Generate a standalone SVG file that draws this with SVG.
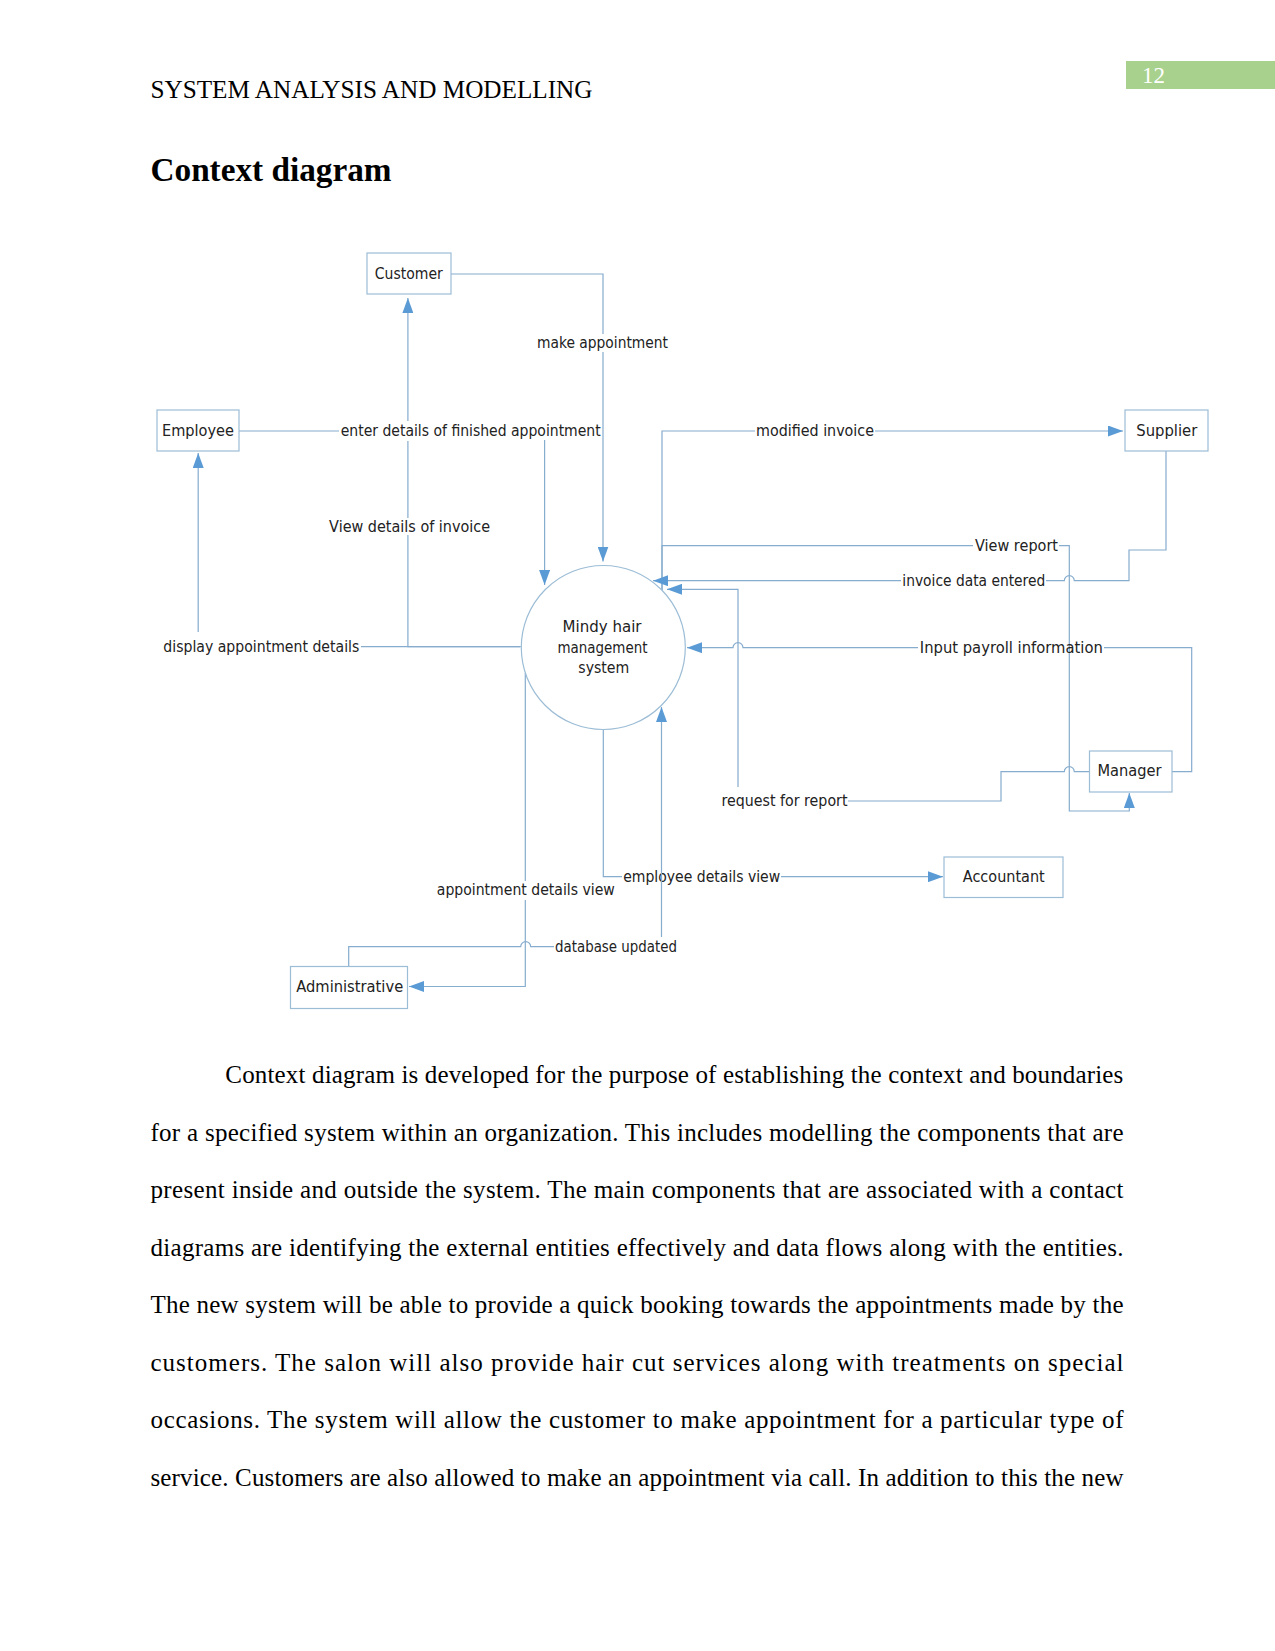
<svg xmlns="http://www.w3.org/2000/svg" width="1275" height="1651" viewBox="0 0 1275 1651">
<style>
.page{font-family:"Liberation Serif","Times New Roman",serif;fill:#000}
.box{fill:#fff;stroke:#9cbdd6;stroke-width:1.2}
.ntxt{font-family:"DejaVu Sans","Liberation Sans",sans-serif;font-size:15px;fill:#222;text-anchor:middle}
.ln{fill:none;stroke:#86acce;stroke-width:1.2}
.lbl{font-family:"DejaVu Sans","Liberation Sans",sans-serif;font-size:15px;fill:#222;text-anchor:middle}
</style>
<defs>
<marker id="ah" viewBox="0 0 15 11" refX="15" refY="5.5" markerWidth="15" markerHeight="11" markerUnits="userSpaceOnUse" orient="auto">
<path d="M0,0 L15,5.5 L0,11 z" fill="#5b9bd5"/>
</marker>
</defs>
<rect width="1275" height="1651" fill="#fff"/>

<g id="header">
<text class="page" x="150.5" y="98" font-size="25" textLength="442" lengthAdjust="spacingAndGlyphs">SYSTEM ANALYSIS AND MODELLING</text>
<rect x="1126" y="61" width="149" height="28" fill="#a9d18e"/>
<text x="1142" y="83" font-family="Liberation Serif, serif" font-size="23" fill="#ffffff">12</text>
<text class="page" x="150.5" y="181" font-size="33" font-weight="bold" textLength="241" lengthAdjust="spacingAndGlyphs">Context diagram</text>
</g>

<g id="connectors">
<g id="c-make-appointment">
<path class="ln" d="M451,274 H603 V334 M603,352 V561.5" marker-end="url(#ah)"/>
<text class="lbl" x="602.5" y="347.7" textLength="131" lengthAdjust="spacingAndGlyphs">make appointment</text>
</g>
<g id="c-enter-details">
<path class="ln" d="M239,431 H339 M544.6,440 V585" marker-end="url(#ah)"/>
<text class="lbl" x="470.7" y="436" textLength="260" lengthAdjust="spacingAndGlyphs">enter details of finished appointment</text>
</g>
<g id="c-view-details-invoice">
<path class="ln" d="M520.5,646.7 H407.9 V535 M407.9,518 V441 M407.9,421 V298" marker-end="url(#ah)"/>
<text class="lbl" x="409.6" y="531.7" textLength="161" lengthAdjust="spacingAndGlyphs">View details of invoice</text>
</g>
<g id="c-display-appointment">
<path class="ln" d="M520.5,646.7 H361 M198.2,632 V453" marker-end="url(#ah)"/>
<text class="lbl" x="261.3" y="651.7" textLength="196" lengthAdjust="spacingAndGlyphs">display appointment details</text>
</g>
<g id="c-modified-invoice">
<path class="ln" d="M662,590 V431 H755 M875,431 H1123" marker-end="url(#ah)"/>
<text class="lbl" x="815" y="436" textLength="118" lengthAdjust="spacingAndGlyphs">modified invoice</text>
</g>
<g id="c-view-report">
<path class="ln" d="M662,590 V545.7 H973 M1059,545.7 H1069.3 V811 H1129.3 V793" marker-end="url(#ah)"/>
<text class="lbl" x="1016.5" y="550.7" textLength="83" lengthAdjust="spacingAndGlyphs">View report</text>
</g>
<g id="c-invoice-data">
<path class="ln" d="M1166,451 V550 H1129 V580.7 H1074.3 A5,5 0 0 0 1064.3,580.7 H1046 M901,580.7 H653" marker-end="url(#ah)"/>
<text class="lbl" x="973.8" y="585.7" textLength="143" lengthAdjust="spacingAndGlyphs">invoice data entered</text>
</g>
<g id="c-request-report">
<path class="ln" d="M1089.5,771.7 H1074.3 A5,5 0 0 0 1064.3,771.7 H1001 V801 H848 M738,787 V589.3 H667" marker-end="url(#ah)"/>
<text class="lbl" x="784.5" y="806" textLength="126" lengthAdjust="spacingAndGlyphs">request for report</text>
</g>
<g id="c-input-payroll">
<path class="ln" d="M1172,771.7 H1191.7 V647.7 H1104 M918,647.7 H743 A5,5 0 0 0 733,647.7 H687" marker-end="url(#ah)"/>
<text class="lbl" x="1011.3" y="652.7" textLength="183" lengthAdjust="spacingAndGlyphs">Input payroll information</text>
</g>
<g id="c-employee-details">
<path class="ln" d="M603.3,729.5 V876.7 H622 M781,876.7 H943" marker-end="url(#ah)"/>
<text class="lbl" x="701.7" y="881.7" textLength="157" lengthAdjust="spacingAndGlyphs">employee details view</text>
</g>
<g id="c-database-updated">
<path class="ln" d="M348.7,966.5 V946.7 H520.7 A5,5 0 0 1 530.7,946.7 H554 M661.5,937 V707" marker-end="url(#ah)"/>
<text class="lbl" x="616" y="951.7" textLength="122" lengthAdjust="spacingAndGlyphs">database updated</text>
</g>
<g id="c-appointment-details">
<path class="ln" d="M525.3,673 V881 M525.3,900 V986.5 H409" marker-end="url(#ah)"/>
<text class="lbl" x="525.8" y="895" textLength="178" lengthAdjust="spacingAndGlyphs">appointment details view</text>
</g>
</g>

<g id="n-system">
<circle cx="603.3" cy="647.5" r="82" fill="#fff" stroke="#9cbdd6" stroke-width="1.2"/>
<text class="ntxt" x="602" y="631.7" textLength="79" lengthAdjust="spacingAndGlyphs">Mindy hair</text>
<text class="ntxt" x="602.5" y="652.7" textLength="90" lengthAdjust="spacingAndGlyphs">management</text>
<text class="ntxt" x="603.8" y="672.7" textLength="51" lengthAdjust="spacingAndGlyphs">system</text>
</g>
<g id="n-customer">
<rect class="box" x="367" y="253" width="84" height="41"/>
<text class="ntxt" x="408.8" y="278.5" textLength="68" lengthAdjust="spacingAndGlyphs">Customer</text>
</g>
<g id="n-employee">
<rect class="box" x="157" y="410" width="82" height="41"/>
<text class="ntxt" x="198" y="436" textLength="72" lengthAdjust="spacingAndGlyphs">Employee</text>
</g>
<g id="n-supplier">
<rect class="box" x="1125" y="410" width="83" height="41"/>
<text class="ntxt" x="1166.8" y="436" textLength="61" lengthAdjust="spacingAndGlyphs">Supplier</text>
</g>
<g id="n-manager">
<rect class="box" x="1089.5" y="751" width="82.5" height="41"/>
<text class="ntxt" x="1129.5" y="776" textLength="64" lengthAdjust="spacingAndGlyphs">Manager</text>
</g>
<g id="n-accountant">
<rect class="box" x="944" y="857" width="119" height="40.5"/>
<text class="ntxt" x="1003.8" y="881.5" textLength="82" lengthAdjust="spacingAndGlyphs">Accountant</text>
</g>
<g id="n-administrative">
<rect class="box" x="290.5" y="966.5" width="117" height="42"/>
<text class="ntxt" x="349.7" y="991.5" textLength="107" lengthAdjust="spacingAndGlyphs">Administrative</text>
</g>

<g id="body" class="page" font-size="25">
<text x="225.3" y="1083" textLength="898" lengthAdjust="spacing">Context diagram is developed for the purpose of establishing the context and boundaries</text>
<text x="150.5" y="1140.5" textLength="973" lengthAdjust="spacing">for a specified system within an organization. This includes modelling the components that are</text>
<text x="150.5" y="1198" textLength="973" lengthAdjust="spacing">present inside and outside the system. The main components that are associated with a contact</text>
<text x="150.5" y="1255.5" textLength="973" lengthAdjust="spacing">diagrams are identifying the external entities effectively and data flows along with the entities.</text>
<text x="150.5" y="1313" textLength="973" lengthAdjust="spacing">The new system will be able to provide a quick booking towards the appointments made by the</text>
<text x="150.5" y="1370.5" textLength="973" lengthAdjust="spacing">customers. The salon will also provide hair cut services along with treatments on special</text>
<text x="150.5" y="1428" textLength="973" lengthAdjust="spacing">occasions. The system will allow the customer to make appointment for a particular type of</text>
<text x="150.5" y="1485.5" textLength="973" lengthAdjust="spacing">service. Customers are also allowed to make an appointment via call. In addition to this the new</text>
</g>
</svg>
